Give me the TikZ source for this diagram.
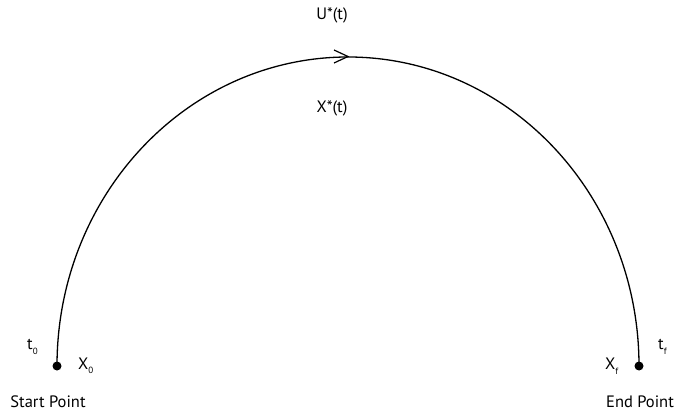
\documentclass[tikz,border=0pt]{standalone}
\usepackage{fontspec}
\setmainfont{PT Sans}
\usetikzlibrary{arrows.meta,decorations.markings}
\newcommand{\lowsub}[1]{\raisebox{-4.5pt}{\fontsize{9pt}{9pt}\selectfont #1}}
\tikzset{
  dot/.style={circle,fill=black,inner sep=0pt,minimum size=9pt},
  lbl/.style={inner sep=0pt,font=\fontsize{16.5pt}{18pt}\selectfont},
  curve/.style={line width=1.3pt}
}
\begin{document}
\begin{tikzpicture}[x=1pt,y=1pt]
\useasboundingbox (0,0) rectangle (677,413);
\node[dot] (s) at (57,47) {};
\node[dot] (e) at (639,47) {};
\draw[curve] (s.center) arc[start angle=180,end angle=0,x radius=291,y radius=309];
\draw[line width=1.2pt] (334,363) -- (348,356.5) -- (334,350);
\node[lbl] (u) at (332,398) {U*(t)};
\node[lbl] (x) at (332,305) {X*(t)};
\node[lbl,anchor=west] (t0) at (27,66) {t\lowsub{0}};
\node[lbl,anchor=west] (x0) at (78,47) {X\lowsub{0}};
\node[lbl] (sp) at (48,11) {Start Point};
\node[lbl,anchor=west] (xf) at (605,47) {X\lowsub{f}};
\node[lbl,anchor=west] (tf) at (658,66) {t\lowsub{f}};
\node[lbl] (ep) at (640,11) {End Point};
\end{tikzpicture}
\end{document}
